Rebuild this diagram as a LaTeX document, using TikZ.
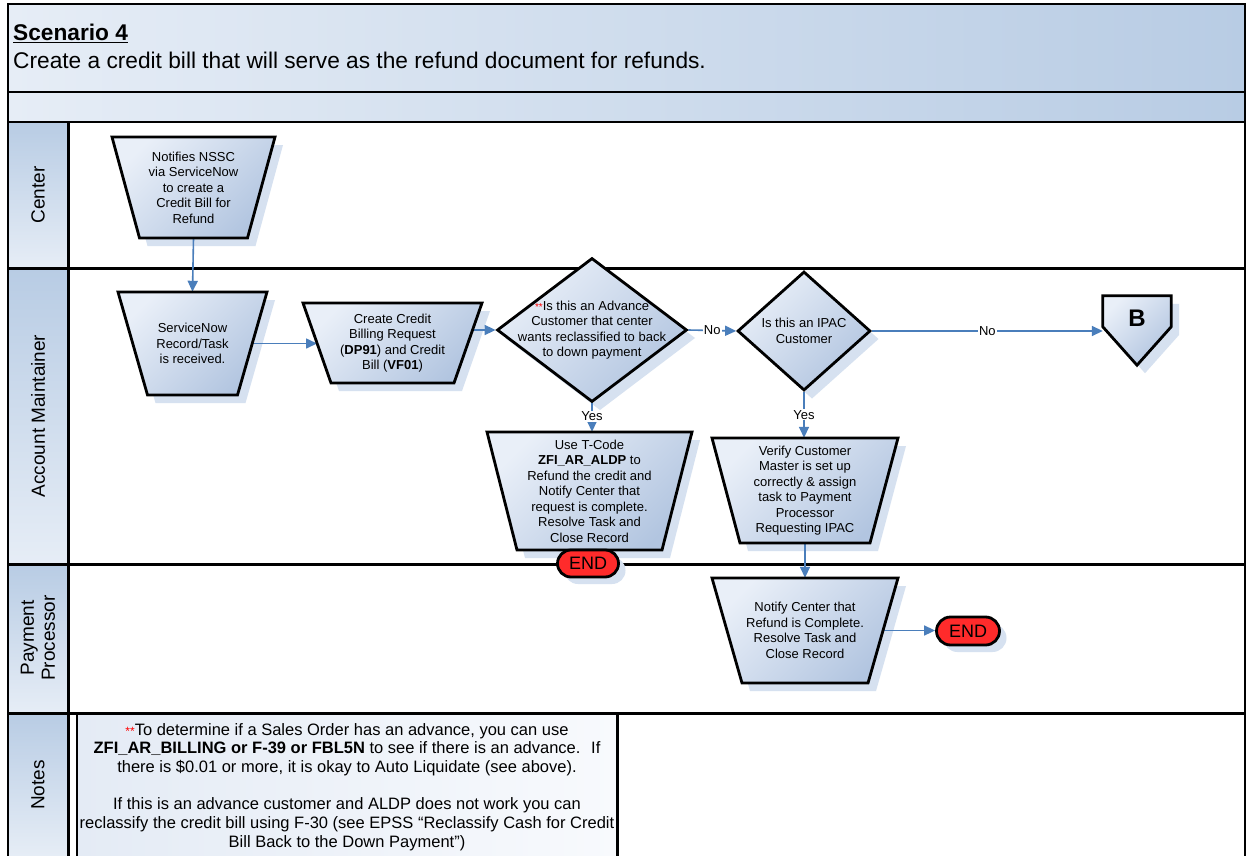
\documentclass[tikz,border=0pt]{standalone}
\usepackage{fontspec}
\setmainfont{Liberation Sans}
\usetikzlibrary{shapes.geometric,shapes.misc,arrows.meta,calc}

\pgfdeclarelayer{lanes}
\pgfdeclarelayer{shadows}
\pgfdeclarelayer{links}
\pgfsetlayers{lanes,shadows,links,main}

\definecolor{shlight}{HTML}{E9EFF8}
\definecolor{shdark}{HTML}{B2C5E0}
\definecolor{shadowc}{HTML}{D6E1F0}
\definecolor{hdrlight}{HTML}{E6EDF6}
\definecolor{hdrdark}{HTML}{B8CCE4}
\definecolor{notelight}{HTML}{E4EBF5}
\definecolor{notedark}{HTML}{F8FAFD}
\definecolor{flow}{HTML}{4A7EBB}
\definecolor{endred}{HTML}{FF2B2B}

% process step: name, centre x, centre y, top width, bottom width, height, text
\newcommand\procbox[7]{%
  \pgfmathsetmacro\pxl{#2-#4/2}\pgfmathsetmacro\pxr{#2+#4/2}%
  \pgfmathsetmacro\pbl{#2-#5/2}\pgfmathsetmacro\pbr{#2+#5/2}%
  \pgfmathsetmacro\pyt{#3-#6/2}\pgfmathsetmacro\pyb{#3+#6/2}%
  \begin{pgfonlayer}{shadows}
    \fill[shadowc] (\pxl+8,\pyt+8) -- (\pxr+8,\pyt+8) -- (\pbr+8,\pyb+8) -- (\pbl+8,\pyb+8) -- cycle;
  \end{pgfonlayer}
  \path[shapefill] (\pxl,\pyt) -- (\pxr,\pyt) -- (\pbr,\pyb) -- (\pbl,\pyb) -- cycle;
  \node[boxtext, minimum width=#4pt, minimum height=#6pt] (#1) at (#2,#3) {#7};
  \coordinate (#1-l) at ({(\pxl+\pbl)/2},#3);
  \coordinate (#1-r) at ({(\pxr+\pbr)/2},#3);
}

% decision: name, centre x, centre y, width, height, text
\newcommand\askbox[6]{%
  \begin{pgfonlayer}{shadows}
    \fill[shadowc] (#2+8,#3-#5/2+8) -- (#2+#4/2+8,#3+8) -- (#2+8,#3+#5/2+8) -- (#2-#4/2+8,#3+8) -- cycle;
  \end{pgfonlayer}
  \node[diamond, shapefill, inner sep=0pt, minimum width=#4pt, minimum height=#5pt] (#1) at (#2,#3) {};
  \node[boxtext] (#1t) at (#1) {#6};
}

% terminator: name, centre x, centre y, width, height
\newcommand\termbox[5]{%
  \begin{pgfonlayer}{shadows}
    \node[rounded rectangle, fill=shadowc, inner sep=0pt, minimum width=#4pt, minimum height=#5pt, font=\fontsize{18}{18}\selectfont] (#1-sh) at (#2+7,#3+7) {\phantom{END}};
  \end{pgfonlayer}
  \node[endnode, minimum width=#4pt, minimum height=#5pt] (#1) at (#2,#3) {END};
}

\begin{document}
\begin{tikzpicture}[x=1pt,y=-1pt,
  shapefill/.style={draw=black,line width=2.8pt,top color=shlight,bottom color=shdark,shading angle=45},
  boxtext/.style={inner sep=0pt,align=center,font=\fontsize{13}{15.5}\selectfont},
  link/.style={draw=flow,line width=1.6pt,-{Triangle[length=11pt,width=10pt]}},
  answer/.style={fill=white,inner sep=1pt,font=\fontsize{13}{13}\selectfont},
  endnode/.style={rounded rectangle,draw=black,line width=2.8pt,fill=endred,inner sep=0pt,font=\fontsize{18}{18}\selectfont},
  lanename/.style={rotate=90,align=center,font=\fontsize{19}{21}\selectfont},
  hdrtext/.style={anchor=base west,inner sep=0pt,font=\fontsize{22.7}{26}\selectfont},
]
\useasboundingbox (0,0) rectangle (1247,856);

% ---------- header and swimlanes ----------
\begin{pgfonlayer}{lanes}
  \shade[left color=hdrlight,right color=hdrdark] (8,4) rectangle (1245,122);
  \fill[white] (68,122) rectangle (1245,856);
  \foreach \a/\b in {122/268,268/564,564/713,713/856}
    \shade[top color=hdrdark,bottom color=hdrlight] (8,\a) rectangle (68,\b);
  \shade[left color=notelight,right color=notedark] (77,713) rectangle (617,856);
  \draw[line width=2pt] (8,4) rectangle (1245,92);
  \draw[line width=1.5pt] (8,92) -- (8,856) (1245,92) -- (1245,856);
  \draw[line width=1.5pt] (8,122) -- (1245,122);
  \draw[line width=3pt] (8,268) -- (1245,268) (8,564) -- (1245,564) (8,713) -- (1245,713);
  \draw[line width=3pt] (68,122) -- (68,856);
  \draw[line width=2pt] (77,713) -- (77,856);
  \draw[line width=3pt] (617,713) -- (617,856);
\end{pgfonlayer}

\node[hdrtext,font=\fontsize{22.7}{26}\selectfont\bfseries] (title) at (13,41) {\underline{Scenario 4}};
\node[hdrtext] (subtitle) at (13,69) {Create a credit bill that will serve as the refund document for refunds.};

\node[lanename] (lane1) at (38,195) {Center};
\node[lanename] (lane2) at (38,416) {Account Maintainer};
\node[lanename] (lane3) at (38,638) {Payment\\Processor};
\node[lanename] (lane4) at (38,785) {Notes};

% ---------- flow shapes ----------
\procbox{notify}{193.5}{187.5}{163}{108}{101}{Notifies NSSC\\via ServiceNow\\to create a\\Credit Bill for\\Refund}
\procbox{record}{192.5}{343.5}{149}{90}{103}{ServiceNow\\Record/Task\\is received.}
\procbox{create}{392.5}{343}{179}{123}{80}{Create Credit\\Billing Request\\(\textbf{DP91}) and Credit\\Bill (\textbf{VF01})}
\askbox{advance}{592}{330}{190}{144}{{\fontsize{10}{10}\selectfont\textcolor{red}{**}}Is this an Advance\\Customer that center\\wants reclassified to back\\to down payment}
\askbox{ipac}{804}{331}{133}{119}{Is this an IPAC\\Customer}
\procbox{aldp}{589.5}{491}{205}{145}{118}{Use T-Code\\\textbf{ZFI\_AR\_ALDP} to\\Refund the credit and\\Notify Center that\\request is complete.\\Resolve Task and\\Close Record}
\procbox{verify}{805}{490.5}{186}{130}{105}{Verify Customer\\Master is set up\\correctly \& assign\\task to Payment\\Processor\\Requesting IPAC}
\procbox{done}{805}{630.5}{186}{126}{105}{Notify Center that\\Refund is Complete.\\Resolve Task and\\Close Record}
\termbox{end1}{588}{563.5}{61}{27}
\termbox{end2}{968}{631}{63}{28}

% off-page connector B
\node[minimum width=68pt,minimum height=69pt,inner sep=0pt] (B) at (1137,330.5) {};
\begin{pgfonlayer}{shadows}
  \fill[shadowc] ([xshift=8pt,yshift=-8pt]B.north west) -- ([xshift=8pt,yshift=-8pt]B.north east)
    -- ([xshift=8pt,yshift=-39pt]B.north east) -- ([xshift=8pt,yshift=-8pt]B.south)
    -- ([xshift=8pt,yshift=-39pt]B.north west) -- cycle;
\end{pgfonlayer}
\path[shapefill] (B.north west) -- (B.north east) -- ([yshift=-31pt]B.north east) -- (B.south)
  -- ([yshift=-31pt]B.north west) -- cycle;
\node[font=\fontsize{24}{24}\selectfont\bfseries,inner sep=0pt] (Btext) at (1137,318) {B};

% ---------- notes ----------
\node[align=center,inner sep=0pt,font=\fontsize{16.5}{18.7}\selectfont] (notes) at (347,787)
  {{\fontsize{12}{12}\selectfont\textcolor{red}{**}}To determine if a Sales Order has an advance, you can use\\
   \textbf{ZFI\_AR\_BILLING or F-39 or FBL5N} to see if there is an advance.~ If\\
   there is \$0.01 or more, it is okay to Auto Liquidate (see above).\\[18.7pt]
   If this is an advance customer and ALDP does not work you can\\
   reclassify the credit bill using F-30 (see EPSS “Reclassify Cash for Credit\\
   Bill Back to the Down Payment”)};

% ---------- connectors ----------
\begin{pgfonlayer}{links}
  \draw[link] (notify.south) -- (record.north);
  \draw[link] (record-r) -- (record-r -| create-l);
  \draw[link] (advance.west -| create-r) -- (advance.west);
  \draw[link] (advance.east) -- node[answer] (no1) {No} (ipac.west);
  \draw[link] (ipac.east) -- node[answer] (no2) {No} (ipac.east -| B.west);
  \draw[link] (advance.south) -- node[answer,pos=0.45] (yes1) {Yes} (advance.south |- aldp.north);
  \draw[link] (ipac.south) -- node[answer] (yes2) {Yes} (ipac.south |- verify.north);
  \draw[link] (verify.south) -- (done.north);
  \draw[link] (done-r) -- (done-r -| end2.west);
\end{pgfonlayer}
\end{tikzpicture}
\end{document}
